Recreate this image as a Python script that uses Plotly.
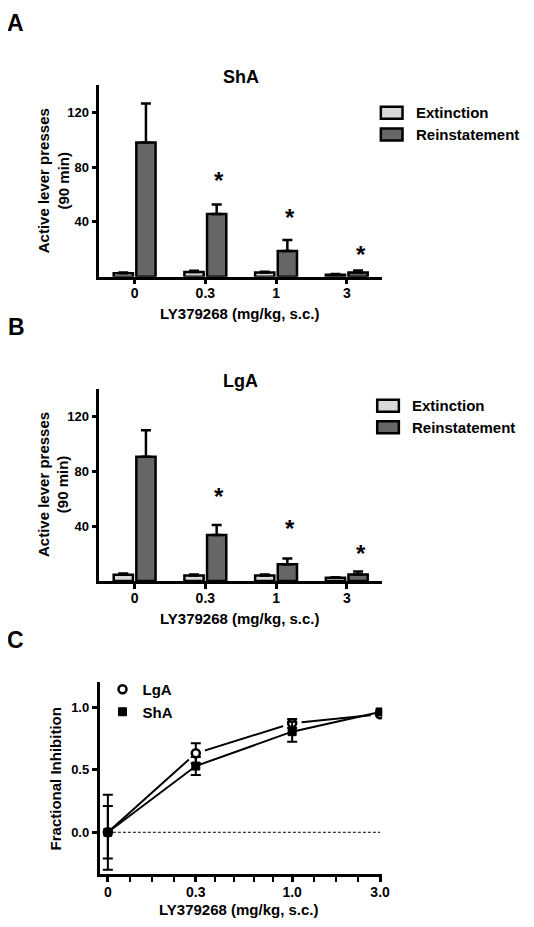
import numpy as np
import plotly.graph_objects as go

# ---------------- data ----------------
dose_labels_bar = ["0", "0.3", "1", "3"]

sha_ext = [2.5, 3.5, 3.0, 1.5]
sha_ext_err = [0.6, 0.8, 0.6, 0.4]
sha_rein = [98.0, 45.7, 18.8, 3.0]
sha_rein_err = [28.5, 7.0, 8.0, 1.5]
sha_star_y = [None, 74, 47, 20]

lga_ext = [4.5, 4.0, 4.0, 2.3]
lga_ext_err = [1.0, 0.8, 0.8, 0.5]
lga_rein = [90.4, 33.4, 12.1, 4.8]
lga_rein_err = [19.3, 7.3, 4.2, 2.2]
lga_star_y = [None, 65, 42, 23.6]

dose_c = [0, 0.3, 1.0, 3.0]
dose_c_labels = ["0", "0.3", "1.0", "3.0"]
lga_inh = [0.0, 0.632, 0.872, 0.945]
lga_inh_err = [0.21, 0.08, 0.035, 0.01]
sha_inh = [0.0, 0.53, 0.805, 0.963]
sha_inh_err = [0.30, 0.072, 0.08, 0.01]

# ---------------- style ----------------
# the page body keeps its default 8px margin on every side; size the figure to fit inside
OFF = 8
W, H = 534 - 2 * OFF, 927 - 2 * OFF
FONT = "Liberation Sans, Arial, Helvetica, sans-serif"
EXT_COL = "#d9d9d9"
REIN_COL = "#666666"
LW = 2.5


def px(x):
    return (x - OFF) / W


def py(y):
    return 1 - (y - OFF) / H


xdom = [px(100.7), px(388)]
ydomA = [py(276.7), py(85)]
ydomB = [py(581), py(388.5)]
ydomC = [py(874), py(681.7)]

fig = go.Figure()
xpos = list(range(len(dose_labels_bar)))


def add_bars(ext, ext_err, rein, rein_err, xa, ya):
    fig.add_trace(go.Bar(
        x=xpos, y=ext, xaxis=xa, yaxis=ya, name="Extinction", showlegend=False,
        marker=dict(color=EXT_COL, line=dict(color="black", width=LW)),
        error_y=dict(type="data", array=ext_err, arrayminus=[0] * len(ext),
                     symmetric=False, color="black", thickness=LW, width=5),
        offsetgroup="ext"))
    fig.add_trace(go.Bar(
        x=xpos, y=rein, xaxis=xa, yaxis=ya, name="Reinstatement", showlegend=False,
        marker=dict(color=REIN_COL, line=dict(color="black", width=LW)),
        error_y=dict(type="data", array=rein_err, arrayminus=[0] * len(rein),
                     symmetric=False, color="black", thickness=LW, width=5),
        offsetgroup="rein"))


add_bars(sha_ext, sha_ext_err, sha_rein, sha_rein_err, "x", "y")
add_bars(lga_ext, lga_ext_err, lga_rein, lga_rein_err, "x2", "y2")

# ---------------- panel C ----------------
dose_c_plot = [d if d > 0 else 0.1 for d in dose_c]
halo_x = [xp for xp, d in zip(dose_c_plot, dose_c) if d > 0]
halo_y = [v for v, d in zip(lga_inh, dose_c) if d > 0]

fig.add_trace(go.Scatter(x=dose_c_plot, y=lga_inh, mode="lines", xaxis="x3", yaxis="y3",
                         line=dict(color="black", width=2), showlegend=False, hoverinfo="skip"))
fig.add_trace(go.Scatter(x=halo_x, y=halo_y, mode="markers", xaxis="x3", yaxis="y3",
                         marker=dict(color="white", size=19, line=dict(width=0)),
                         showlegend=False, hoverinfo="skip"))
fig.add_trace(go.Scatter(x=dose_c_plot, y=sha_inh, mode="lines", xaxis="x3", yaxis="y3",
                         line=dict(color="black", width=2), showlegend=False, hoverinfo="skip"))
fig.add_trace(go.Scatter(x=dose_c_plot, y=lga_inh, mode="markers", xaxis="x3", yaxis="y3",
                         name="LgA", legendrank=1,
                         marker=dict(symbol="circle", color="white", size=8,
                                     line=dict(color="black", width=2.5)),
                         error_y=dict(type="data", array=lga_inh_err, color="black",
                                      thickness=2, width=5)))
fig.add_trace(go.Scatter(x=dose_c_plot, y=sha_inh, mode="markers", xaxis="x3", yaxis="y3",
                         name="ShA", legendrank=2,
                         marker=dict(symbol="square", color="black", size=8,
                                     line=dict(color="black", width=1)),
                         error_y=dict(type="data", array=sha_inh_err, color="black",
                                      thickness=2, width=5)))

# dashed zero line across the dose range
fig.add_shape(type="line", xref="x3", yref="y3", x0=min(dose_c_plot), x1=max(dose_c_plot),
              y0=0, y1=0, line=dict(color="black", width=1, dash="3px,2px"), layer="below")

# minor ticks for panel C (even subdivisions in log space between labelled doses)
sub_counts = [4, 5, 4]
minor_vals = []
for a, b, n in zip(dose_c_plot[:-1], dose_c_plot[1:], sub_counts):
    minor_vals += list(10 ** np.linspace(np.log10(a), np.log10(b), n + 1)[1:-1])

xtickfont = dict(family=FONT, size=14, color="black", weight="bold")
ytickfont = dict(family=FONT, size=13, color="black", weight="bold")
axis_common = dict(showline=True, linecolor="black", linewidth=LW, ticks="outside",
                   tickcolor="black", tickwidth=LW, ticklen=5, showgrid=False,
                   zeroline=False, mirror=False)

fig.update_layout(
    width=W, height=H, margin=dict(l=0, r=0, t=0, b=0),
    paper_bgcolor="white", plot_bgcolor="white",
    barmode="group", bargap=0.36, bargroupgap=0.15,
    font=dict(family=FONT, color="black"),
    xaxis=dict(domain=xdom, anchor="y", range=[-0.5, 3.5], tickvals=xpos,
               ticktext=dose_labels_bar, tickfont=xtickfont, ticklabelstandoff=-3,
               **axis_common),
    yaxis=dict(domain=ydomA, anchor="x", range=[0, 140], tickvals=[40, 80, 120],
               tickfont=ytickfont, **axis_common),
    xaxis2=dict(domain=xdom, anchor="y2", range=[-0.5, 3.5], tickvals=xpos,
                ticktext=dose_labels_bar, tickfont=xtickfont, ticklabelstandoff=-3,
                **axis_common),
    yaxis2=dict(domain=ydomB, anchor="x2", range=[0, 140], tickvals=[40, 80, 120],
                tickfont=ytickfont, **axis_common),
    xaxis3=dict(domain=[px(101), px(388)], anchor="y3", type="log",
                range=[np.log10(0.1) - 0.045, np.log10(3) + 0.011],
                tickvals=dose_c_plot, ticktext=dose_c_labels, tickfont=xtickfont,
                ticklabelstandoff=-2,
                minor=dict(tickmode="array", tickvals=minor_vals, ticks="outside",
                           ticklen=5, tickwidth=2, tickcolor="black"),
                **axis_common),
    yaxis3=dict(domain=ydomC, anchor="x3", range=[-0.334, 1.205], tickvals=[0, 0.5, 1.0],
                tickformat=".1f", tickfont=ytickfont, **axis_common),
    legend=dict(x=px(104), y=py(673), xanchor="left", yanchor="top",
                bgcolor="rgba(0,0,0,0)", font=dict(family=FONT, size=15, weight="bold"),
                tracegroupgap=0, itemwidth=30, traceorder="normal"),
    showlegend=True,
)

ann = []


def text(x, y, s, size, angle=0, xanchor="center", yanchor="middle"):
    ann.append(dict(x=px(x), y=py(y), xref="paper", yref="paper", text=s, showarrow=False,
                    xanchor=xanchor, yanchor=yanchor, textangle=angle,
                    font=dict(family=FONT, size=size, color="black", weight="bold")))


text(16, OFF, "A", 23, yanchor="top")
text(17, 326.5, "B", 23)
text(16, 640, "C", 23)
text(244.3, 76.7, "ShA", 18)
text(244.3, 380.7, "LgA", 18)
text(244, 313, "LY379268 (mg/kg, s.c.)", 15)
text(244, 618, "LY379268 (mg/kg, s.c.)", 15)
text(243, 909, "LY379268 (mg/kg, s.c.)", 15)
text(54, 181, "Active lever presses<br>(90 min)", 15, angle=-90)
text(54, 484.7, "Active lever presses<br>(90 min)", 15, angle=-90)
text(56.7, 778.5, "Fractional Inhibition", 15, angle=-90)

# manual legends for panels A and B
for (bx, tx, yc) in [(386.7, 420, [112.8, 134.5]), (383, 416, [405.7, 427.3])]:
    for col, lab, y in zip([EXT_COL, REIN_COL], ["Extinction", "Reinstatement"], yc):
        fig.add_shape(type="rect", xref="paper", yref="paper",
                      x0=px(bx), x1=px(bx + 22), y0=py(y + 6), y1=py(y - 6),
                      line=dict(color="black", width=LW), fillcolor=col)
        text(tx, y, lab, 15, xanchor="left")

# significance asterisks above reinstatement bars
for xa, ya, stars in [("x", "y", sha_star_y), ("x2", "y2", lga_star_y)]:
    for i, s in enumerate(stars):
        if s is None:
            continue
        ann.append(dict(x=xpos[i], y=s, xref=xa, yref=ya, text="*", showarrow=False,
                        xshift=14, yshift=-5, xanchor="center", yanchor="middle",
                        font=dict(family=FONT, size=24, color="black", weight="bold")))

fig.update_layout(annotations=ann)
fig.write_html("out.html")
